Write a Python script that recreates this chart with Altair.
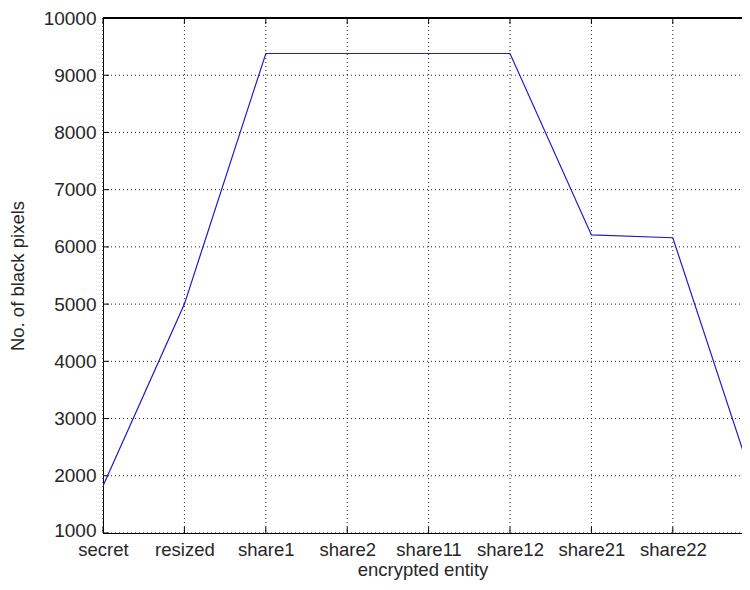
import altair as alt
import pandas as pd

categories = ["secret", "resized", "share1", "share2", "share11", "share12", "share21", "share22", ""]
values = [1820, 5000, 9380, 9380, 9380, 9380, 6210, 6160, 1840]
y_ticks = [1000, 2000, 3000, 4000, 5000, 6000, 7000, 8000, 9000, 10000]
x_ticks = list(range(8))

df = pd.DataFrame({"idx": list(range(len(values))), "cat": categories, "val": values})
yt = pd.DataFrame({"v": y_ticks})
xt = pd.DataFrame({"i": x_ticks})

W, H = 639, 515
XMAX = 7.85
xscale = alt.Scale(domain=[0, XMAX], nice=False, zero=False)
yscale = alt.Scale(domain=[1000, 10000], nice=False, zero=False)

label_expr = "[" + ",".join("'%s'" % c for c in categories[:8]) + "][datum.value]"

FONT = "Liberation Sans"
TXT = "#262626"

# gridlines (dotted)
hgrid = alt.Chart(yt).mark_rule(color="#222", strokeDash=[1, 3], strokeWidth=1).encode(
    y=alt.Y("v:Q", scale=yscale), x=alt.value(0), x2=alt.value(W)
)
vgrid = alt.Chart(xt).mark_rule(color="#222", strokeDash=[1, 3], strokeWidth=1).encode(
    x=alt.X("i:Q", scale=xscale), y=alt.value(0), y2=alt.value(H)
)

# inward ticks
ytick = alt.Chart(yt).mark_rule(color="black", strokeWidth=1).encode(
    y=alt.Y("v:Q", scale=yscale), x=alt.value(0), x2=alt.value(6)
)
xtick_b = alt.Chart(xt).mark_rule(color="black", strokeWidth=1).encode(
    x=alt.X("i:Q", scale=xscale), y=alt.value(H - 6), y2=alt.value(H)
)
xtick_t = alt.Chart(xt).mark_rule(color="black", strokeWidth=1).encode(
    x=alt.X("i:Q", scale=xscale), y=alt.value(0), y2=alt.value(6)
)
top_border = alt.Chart(yt).mark_rule(color="black", strokeWidth=1).encode(
    x=alt.value(0), x2=alt.value(W), y=alt.value(0)
)

line = alt.Chart(df).mark_line(color="#1c1cc8", strokeWidth=1.2, clip=True).encode(
    x=alt.X(
        "idx:Q",
        scale=xscale,
        axis=alt.Axis(
            values=x_ticks,
            labelExpr=label_expr,
            labelFlush=False,
            labelOverlap=False,
            grid=False,
            ticks=False,
            domain=True,
            domainColor="black",
            domainWidth=1,
            labelFont=FONT,
            labelFontSize=18.5,
            labelColor=TXT,
            labelPadding=7,
            title="encrypted entity",
            titleFont=FONT,
            titleFontSize=18.5,
            titleFontWeight="normal",
            titleColor=TXT,
            titlePadding=2,
        ),
    ),
    y=alt.Y(
        "val:Q",
        scale=yscale,
        axis=alt.Axis(
            values=y_ticks,
            format="d",
            labelFlush=False,
            labelOverlap=False,
            grid=False,
            ticks=False,
            domain=True,
            domainColor="black",
            domainWidth=1,
            labelFont=FONT,
            labelFontSize=19,
            labelColor=TXT,
            labelPadding=7,
            labelOffset={"condition": {"test": "datum.value == 1000", "value": -3}, "value": 0},
            title="No. of black pixels",
            titleFont=FONT,
            titleFontSize=18.5,
            titleFontWeight="normal",
            titleColor=TXT,
            titlePadding=16,
        ),
    ),
)

chart = (
    alt.layer(hgrid, vgrid, ytick, xtick_b, xtick_t, top_border, line)
    .properties(
        width=W,
        height=H,
        autosize=alt.AutoSizeParams(type="none"),
        padding={"left": 95, "top": 10, "right": 0, "bottom": 49},
        background="white",
    )
    .configure_view(stroke=None)
)

chart.save("out.html", embed_options={"renderer": "svg", "actions": False})
